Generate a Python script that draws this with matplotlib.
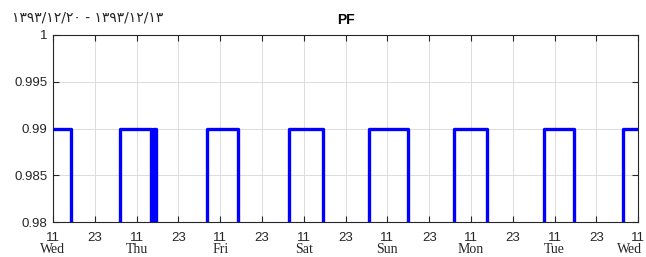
import numpy as np
import pandas as pd
import matplotlib
matplotlib.use('Agg')
import matplotlib.pyplot as plt
import matplotlib.dates as mdates
from matplotlib.transforms import blended_transform_factory

# PF switching events (Wed 2015-03-04 11:00 .. Wed 2015-03-11 11:00)
change_times = ['2015-03-04 11:00', '2015-03-04 16:10', '2015-03-05 06:15',
                '2015-03-05 15:00', '2015-03-05 15:40', '2015-03-05 16:35',
                '2015-03-06 07:05', '2015-03-06 16:00', '2015-03-07 06:45',
                '2015-03-07 16:35', '2015-03-08 05:40', '2015-03-08 16:50',
                '2015-03-09 06:10', '2015-03-09 15:40', '2015-03-10 07:55',
                '2015-03-10 16:25', '2015-03-11 06:40', '2015-03-11 11:00']
pf_values = [0.99, 0, 0.99, 0, 0.99, 0, 0.99, 0, 0.99, 0, 0.99, 0, 0.99, 0,
             0.99, 0, 0.99, 0.99]
y_ticks = [0.98, 0.985, 0.99, 0.995, 1]
y_tick_labels = ['0.98', '0.985', '0.99', '0.995', '1']
day_names = ['Wed', 'Thu', 'Fri', 'Sat', 'Sun', 'Mon', 'Tue', 'Wed']
date_range_text = '۱۳۹۳/۱۲/۲۰ - ۱۳۹۳/۱۲/۱۳'

t = pd.to_datetime(change_times)
start, end = t[0], t[-1]

fig = plt.figure(figsize=(6.46, 2.57), dpi=100)
ax = fig.add_axes([0.082, 0.136, 0.906, 0.728])

ax.step(t, pf_values, where='post', color='#0000ff', lw=2.4, zorder=3)

ax.set_xlim(start, end)
ax.set_ylim(0.98, 1)

ticks = pd.date_range(start, end, freq='12h')
ax.set_xticks(ticks)
ax.set_xticklabels([str(x.hour) for x in ticks])
ax.set_yticks(y_ticks)
ax.set_yticklabels(y_tick_labels)

ax.tick_params(direction='in', top=True, right=True, length=4, width=0.8,
               labelsize=9.5, colors='#262626', pad=4)
ax.tick_params(axis='x', pad=7)
for lab in ax.get_xticklabels() + ax.get_yticklabels():
    lab.set_fontfamily('Liberation Sans')
for s in ax.spines.values():
    s.set_color('#262626')
    s.set_linewidth(0.8)
ax.grid(True, color='#dcdcdc', lw=0.7, ls='-')

trans = blended_transform_factory(ax.transData, ax.transAxes)
day_ticks = mdates.date2num(pd.date_range(start, end, freq='24h').to_pydatetime())
for i, (d, name) in enumerate(zip(day_ticks, day_names)):
    last = i == len(day_names) - 1
    ax.annotate(name, xy=(d, -0.112), xycoords=trans,
                xytext=(4 if last else 0, 0), textcoords='offset pixels',
                ha='right' if last else 'center', va='top',
                fontsize=10, fontfamily='Liberation Serif', color='#262626',
                annotation_clip=False)

ax.set_title('PF', fontsize=10, fontweight='bold', fontfamily='Liberation Sans',
             pad=8)
fig.text(0.018, 0.93, date_range_text, fontsize=10, fontfamily='DejaVu Sans',
         color='#262626', ha='left', va='center')

fig.savefig('out.png', dpi=100, facecolor='white')
